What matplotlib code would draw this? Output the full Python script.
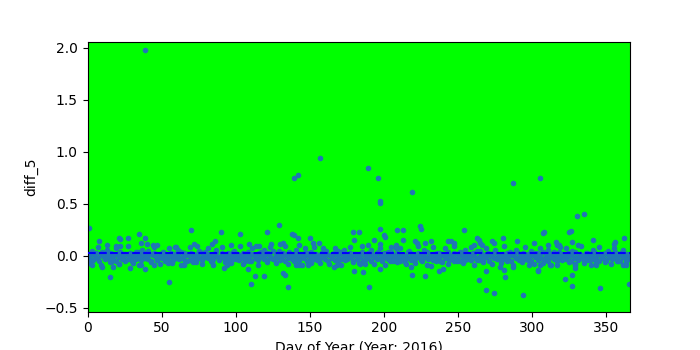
import matplotlib
matplotlib.use("Agg")
import matplotlib.pyplot as plt
import numpy as np

# daily baseline of diff_5, in hundredths, day 1..366
band = [
    1, -3, 2, -4, 0, 3, -2, -5, 1, 4, -1, -3, 2, 0, -4, 3, -2, 1, -5, 2,
    -1, 4, -3, 0, 2, -4, 1, -2, 3, -5, 0, 2, -3, 4, -1, -4, 1, 3, -2, 0,
    -3, 2, -5, 1, 3, -1, -4, 0, 2, -2, 4, -3, 1, -5, 0, 3, -1, -4, 2, -2,
    1, -3, 4, -2, 0, -5, 2, 1, -4, 3, -1, 0, -3, 2, -2, 4, -4, 1, -1, 3,
    -2, 0, -5, 2, -3, 1, 4, -1, -4, 0, 3, -2, 1, -3, 2, -5, 0, 4, -1, -3,
    2, -4, 1, -2, 3, 0, -3, 4, -1, -5, 2, 1, -2, 0, -4, 3, -1, 2, -3, 1,
    -4, 3, 0, -2, 5, -3, 1, -1, 2, -4, 0, 3, -5, 1, -2, 4, -1, -3, 2, 0,
    -3, 1, -4, 2, 0, -2, 3, -5, 1, -1, 4, -3, 0, 2, -4, 1, -2, 3, -1, -3,
    2, -5, 1, 0, -2, 3, -4, 1, -1, 2, -3, 4, 0, -4, 1, -2, 3, -1, -5, 2,
    0, -3, 2, -1, 4, -4, 1, -2, 3, 0, -5, 2, -1, 1, -3, 4, -2, 0, -4, 3,
    -1, 2, -3, 0, 4, -5, 1, -2, 3, -1, -4, 2, 0, -3, 1, 4, -2, -4, 2, 0,
    -3, 1, 3, -2, 0, -5, 2, -1, 4, -3, 1, 0, -4, 2, -2, 3, -1, -5, 1, 2,
    -2, 0, 4, -4, 1, -1, 3, -3, 2, 0, -5, 1, -2, 4, -1, -3, 2, 0, -4, 3,
    1, -2, 5, -4, 0, 2, -3, 1, -1, 3, -5, 0, 2, -2, 4, -3, 1, -1, -4, 2,
    0, -3, 3, -1, 1, -5, 2, 0, -2, 4, -4, 1, -1, 3, -3, 0, 2, -2, -5, 1,
    3, -1, 0, -4, 2, -2, 4, -3, 1, 0, -5, 2, -1, 3, -3, 1, -2, 4, 0, -4,
    2, -1, -3, 3, 0, -5, 1, -2, 4, -1, -4, 2, 0, -3, 1, 3, -2, -4, 2, 0,
    -3, 4, -1, 1, -5, 2, 0, -2, 3, -4, 1, -1, 2, -3, 0, 4, -2, -5, 1, 3,
    -1, 0, -4, 2, -2, 1,
]

# second reading on odd days (1, 3, ..., 365), in hundredths
band2 = [
    -7, 5, -2, 8, -9, 3, 6, -6, -1, 7, -8, 2, -5, 9, -3, -7, 4, -9, 6, -2,
    5, -6, 8, -4, -8, 2, -3, 7, -7, 1, 6, -9, 3, -5, 8, -2, -6, 5, -8, 4,
    7, -4, -9, 6, -1, 8, -6, 3, -7, 5, -3, 9, -8, 2, -5, 7, -2, -9, 4, 6,
    -6, 8, -3, -7, 5, -1, 9, -8, 2, -5, 6, -4, -9, 7, 3, -6, 8, -2, -7, 4,
    5, -8, 1, 7, -5, -9, 6, -3, 8, -6, 2, -7, 9, -4, -2, 6, -8, 3, 7, -5,
    -9, 4, 8, -3, -6, 7, -1, -8, 5, 2, -7, 9, -4, 6, -9, -2, 8, -5, 3, -6,
    7, -8, -3, 9, -5, 4, -7, 6, -2, 8, -9, -4, 5, -6, 7, 2, -8, 6, -3, -7,
    9, -5, 4, -9, 6, -2, -6, 8, -4, 5, -8, 3, 7, -7, -1, 6, -9, 4, -5, 8,
    -3, 7, -6, 5, -8, -2, 9, -7, 3, -4, 6, -9, 8, -1, -6, 5, -8, 7, 2, -5,
    6, -7, -3,
]

# further readings (day, diff_5) away from the band
extra_days = [
    1, 3, 8, 13, 15, 16, 10, 21, 22, 27, 19, 22, 21, 17, 29, 35, 39, 36, 40, 44,
    47, 39, 36, 45, 55, 59, 52, 54, 39,
    70, 90, 103, 121, 60, 72, 74, 86, 84, 97, 109, 114, 116, 65, 71, 84, 92, 94,
    108, 113, 119, 110, 96, 98, 106,
    129, 138, 139, 142, 150, 179, 124, 130, 132, 143, 152, 156, 159, 169, 180,
    132, 133, 135, 141, 143, 149, 151, 166, 168, 180, 139, 142, 157,
    197, 197, 183, 197, 200, 201, 209, 213, 224, 225, 193, 189, 197, 208, 208,
    213, 221, 222, 228, 232, 245, 184, 187, 186, 190, 197, 218, 219, 228, 232,
    237, 240, 204, 211, 214, 189, 196, 219,
    254, 280, 290, 301, 243, 247, 263, 264, 261, 265, 266, 273, 274, 264, 269,
    274, 294, 269, 278, 281, 282, 287, 298, 304, 247, 255, 259, 287, 305,
    330, 335, 308, 307, 326, 325, 327, 341, 356, 355, 362, 311, 316, 317, 318,
    331, 304, 305, 312, 317, 327, 322, 327, 329, 329, 340, 343, 344, 346, 361,
    363, 365, 350, 357,
]
extra_vals = [
    0.27, -0.09, 0.14, 0.10, -0.20, -0.06, -0.11, 0.175, 0.16, 0.175, 0.09, 0.09,
    -0.08, -0.11, -0.12, 0.21, 0.175, 0.12, 0.11, 0.10, 0.10, -0.13, -0.09, -0.09,
    -0.25, 0.085, -0.05, -0.07, 1.98,
    0.245, 0.225, 0.21, 0.225, 0.08, 0.11, 0.09, 0.14, 0.11, 0.10, 0.11, 0.09,
    0.09, -0.09, -0.06, -0.06, -0.12, -0.09, -0.13, -0.19, -0.19, -0.27, -0.05,
    -0.03, -0.05,
    0.30, 0.21, 0.20, 0.175, 0.175, 0.225, 0.11, 0.11, 0.12, 0.10, 0.12, 0.12,
    0.07, 0.05, 0.15, -0.17, -0.18, -0.30, -0.09, -0.09, -0.09, -0.07, -0.11,
    -0.09, -0.15, 0.745, 0.78, 0.94,
    0.51, 0.53, 0.23, 0.26, 0.20, 0.185, 0.245, 0.25, 0.29, 0.26, 0.155, 0.10,
    0.11, 0.10, 0.07, 0.15, 0.14, 0.12, 0.12, 0.14, 0.14, -0.075, -0.075, -0.16,
    -0.30, -0.13, -0.11, -0.185, -0.19, -0.095, -0.15, -0.13, -0.05, -0.05,
    -0.06, 0.84, 0.745, 0.61,
    0.245, 0.17, 0.14, 0.12, 0.14, 0.12, 0.17, 0.15, 0.10, 0.12, 0.10, 0.14,
    0.12, -0.235, -0.33, -0.36, -0.38, -0.15, -0.11, -0.14, -0.20, -0.11, -0.09,
    -0.14, -0.05, -0.04, -0.04, 0.70, 0.745,
    0.385, 0.405, 0.225, 0.22, 0.24, 0.23, 0.13, 0.15, 0.13, 0.11, 0.17, 0.10,
    0.13, 0.10, 0.10, 0.10, -0.15, -0.09, -0.09, -0.09, -0.18, -0.22, -0.29,
    -0.09, -0.12, -0.09, -0.06, -0.04, -0.31, -0.09, -0.09, -0.27, -0.05, -0.05,
]
mean_diff = 0.025

day_idx = np.arange(1, len(band) + 1)
odd_days = np.arange(1, 2 * len(band2), 2)
days = np.concatenate([day_idx, odd_days, extra_days])
vals = np.concatenate([np.array(band) / 100.0, np.array(band2) / 100.0, extra_vals])

fig, ax = plt.subplots(figsize=(7, 3.5), dpi=100)
ax.set_facecolor("#00ff00")
ax.scatter(days, vals, s=9, color="tab:blue", zorder=2)
ax.axhline(mean_diff, color="b", ls="--", lw=1.5, zorder=3)
ax.set_xlim(0, 366)
ax.set_ylim(-0.535, 2.053)
ax.set_xlabel("Day of Year (Year: 2016)")
ax.set_ylabel("diff_5")
fig.savefig("out.png", dpi=100)
